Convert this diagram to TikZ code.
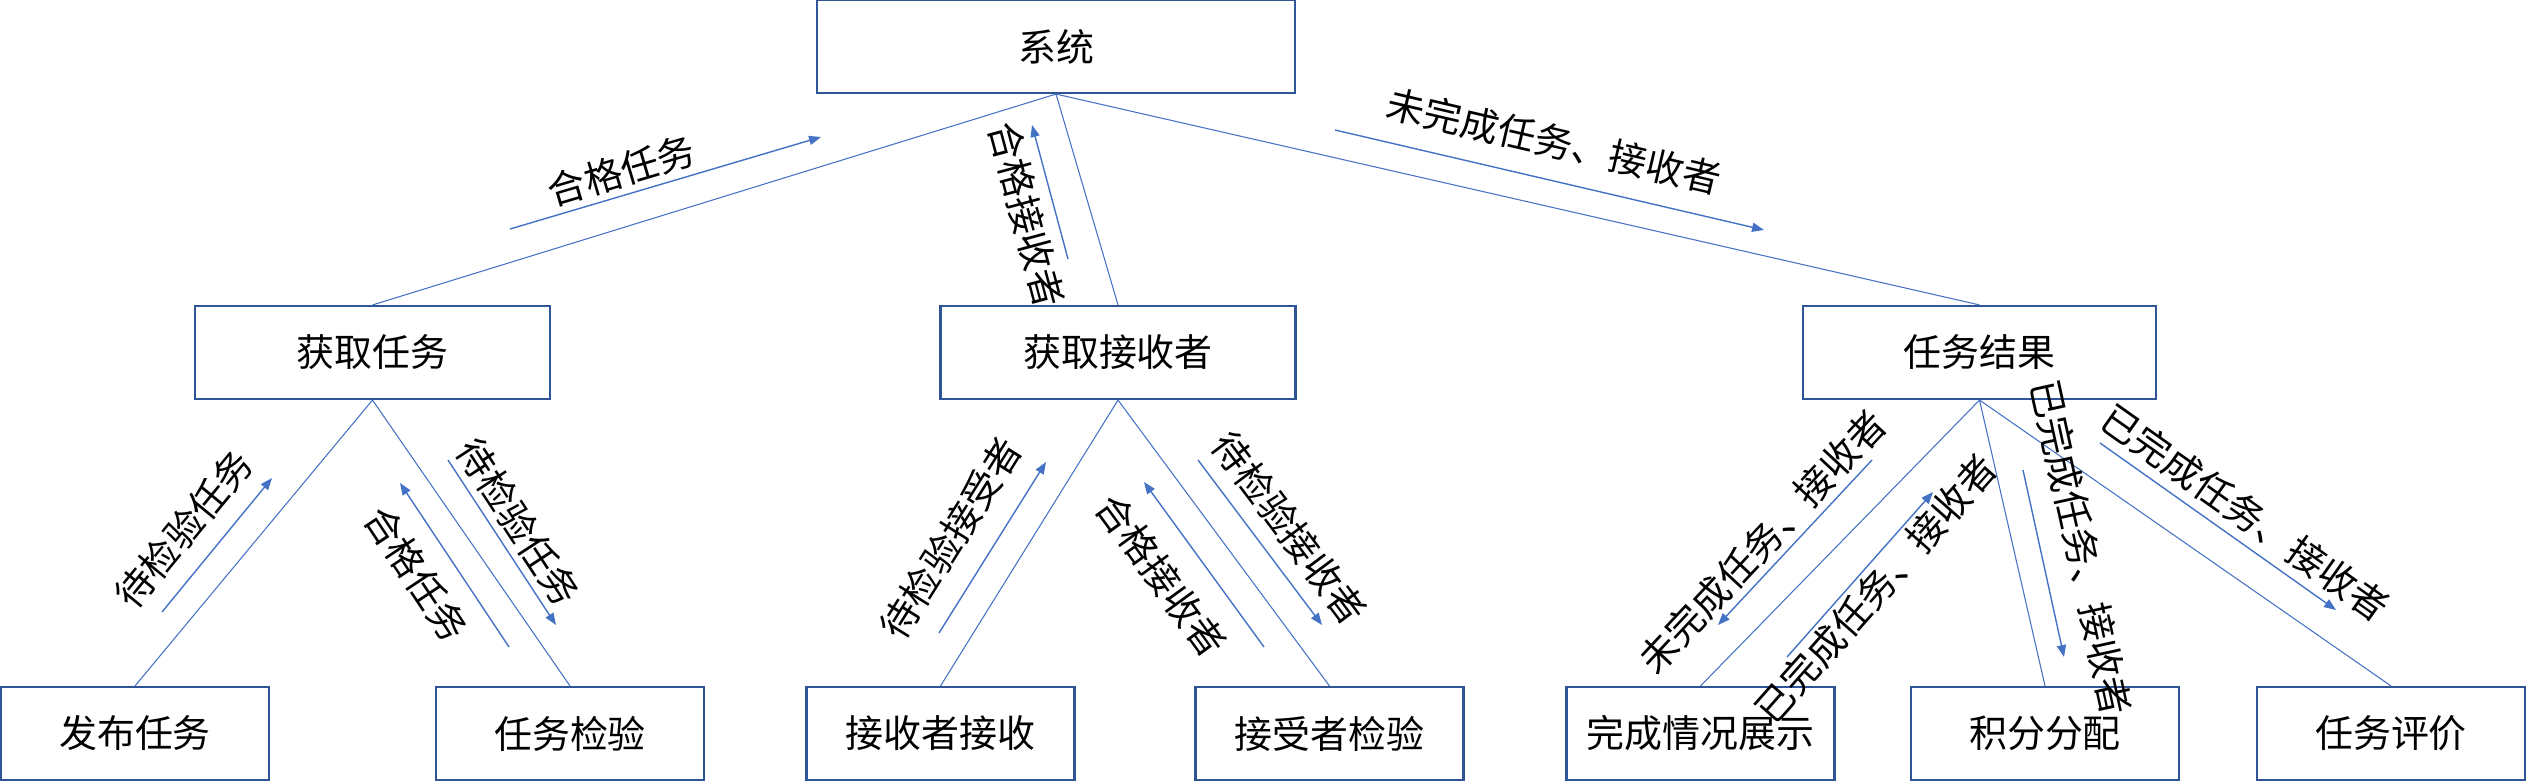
\documentclass[tikz,border=0pt]{standalone}
\usepackage{fontspec}
\setmainfont{Noto Sans CJK SC}
\usepackage{tikz}
\usetikzlibrary{arrows.meta,positioning}
\definecolor{boxblue}{HTML}{2F5597}
\definecolor{lineblue}{HTML}{4472C4}

\begin{document}
\begin{tikzpicture}[>={Triangle[length=3.4pt,width=2.6pt]},
                    font=\fontsize{10.8pt}{13pt}\selectfont]
  \tikzstyle{module}=[rectangle,draw=boxblue,line width=0.6pt,minimum height=9.3mm,inner sep=0pt]
  \tikzstyle{sub}=[module,minimum width=26.8mm]
  \tikzstyle{link}=[draw=lineblue,line width=0.3pt]
  \tikzstyle{flow}=[->,draw=lineblue,line width=0.4pt]
  \tikzstyle{lbl}=[sloped,inner sep=0pt,text=black]
  \useasboundingbox (0,0) rectangle (25.26,7.81);

  \node[module,minimum width=47.8mm] (sys) at (10.56,7.345) {系统};
  \node[module,minimum width=35.5mm] (hqrw) at (3.725,4.285) {获取任务};
  \node[module,minimum width=35.5mm] (hqjs) [right of=hqrw,node distance=7.455cm] {获取接收者};
  \node[module,minimum width=35.3mm] (rwjg) [right of=hqjs,node distance=8.615cm] {任务结果};

  \node[sub] (fbrw) at (1.35,0.475) {发布任务};
  \node[sub] (rwjy)  [right of=fbrw,node distance=4.35cm]  {任务检验};
  \node[sub] (jszjs) [right of=rwjy,node distance=3.705cm] {接收者接收};
  \node[sub] (jszjy) [right of=jszjs,node distance=3.89cm] {接受者检验};
  \node[sub] (wcqk)  [right of=jszjy,node distance=3.71cm] {完成情况展示};
  \node[sub] (jffp)  [right of=wcqk,node distance=3.445cm] {积分分配};
  \node[sub] (rwpj)  [right of=jffp,node distance=3.46cm]  {任务评价};

  % tree lines
  \draw[link] (sys.south) -- (hqrw.north)
              (sys.south) -- (hqjs.north)
              (sys.south) -- (rwjg.north)
              (hqrw.south) -- (fbrw.north)
              (hqrw.south) -- (rwjy.north)
              (hqjs.south) -- (jszjs.north)
              (hqjs.south) -- (jszjy.north)
              (rwjg.south) -- (wcqk.north)
              (rwjg.south) -- (jffp.north)
              (rwjg.south) -- (rwpj.north);

  % data flows
  \coordinate (a1s) at (5.10,5.52);   \coordinate (a1e) at (8.21,6.44);
  \coordinate (a2s) at (10.68,5.22);  \coordinate (a2e) at (10.32,6.56);
  \coordinate (a3s) at (13.35,6.51);  \coordinate (a3e) at (17.64,5.51);
  \coordinate (a4s) at (1.62,1.69);   \coordinate (a4e) at (2.72,3.03);
  \coordinate (a5s) at (5.09,1.34);   \coordinate (a5e) at (4.00,2.98);
  \coordinate (a6s) at (4.48,3.21);   \coordinate (a6e) at (5.56,1.56);
  \coordinate (a7s) at (9.39,1.48);   \coordinate (a7e) at (10.46,3.19);
  \coordinate (a8s) at (12.64,1.34);  \coordinate (a8e) at (11.44,2.99);
  \coordinate (a9s) at (11.98,3.21);  \coordinate (a9e) at (13.22,1.56);
  \coordinate (a10s) at (18.72,3.21); \coordinate (a10e) at (17.18,1.56);
  \coordinate (a11s) at (17.87,1.24); \coordinate (a11e) at (19.33,2.89);
  \coordinate (a12s) at (20.23,3.11); \coordinate (a12e) at (20.64,1.24);
  \coordinate (a13s) at (21.00,3.38); \coordinate (a13e) at (23.36,1.71);

  \path (a1s) edge[flow] node[lbl,above=0.6mm,pos=.38] {合格任务} (a1e)
        (a2s) edge[flow] node[lbl,below=1mm,pos=.385] {合格接收者} (a2e)
        (a3s) edge[flow] node[lbl,above=2mm,pos=.49] {未完成任务、接收者} (a3e)
        (a4s) edge[flow] node[lbl,above=1.75mm,pos=.45] {待检验任务} (a4e)
        (a5s) edge[flow] node[lbl,below=1.8mm,pos=.57] {合格任务} (a5e)
        (a6s) edge[flow] node[lbl,above=0.65mm,pos=.46] {待检验任务} (a6e)
        (a7s) edge[flow] node[lbl,above=2.2mm,pos=.43] {待检验接受者} (a7e)
        (a8s) edge[flow] node[lbl,below=2.25mm,pos=.58] {合格接收者} (a8e)
        (a9s) edge[flow] node[lbl,above=1.4mm,pos=.53] {待检验接收者} (a9e)
        (a10s) edge[flow] node[lbl,above=0.6mm,pos=.595] {未完成任务、接收者} (a10e)
        (a11s) edge[flow] node[lbl,below=0.3mm,pos=.5] {已完成任务、接收者} (a11e)
        (a12s) edge[flow] node[lbl,above=2.2mm,pos=.46] {已完成任务、接收者} (a12e)
        (a13s) edge[flow] node[lbl,above=0.85mm,pos=.55] {已完成任务、接收者} (a13e);

\end{tikzpicture}
\end{document}
